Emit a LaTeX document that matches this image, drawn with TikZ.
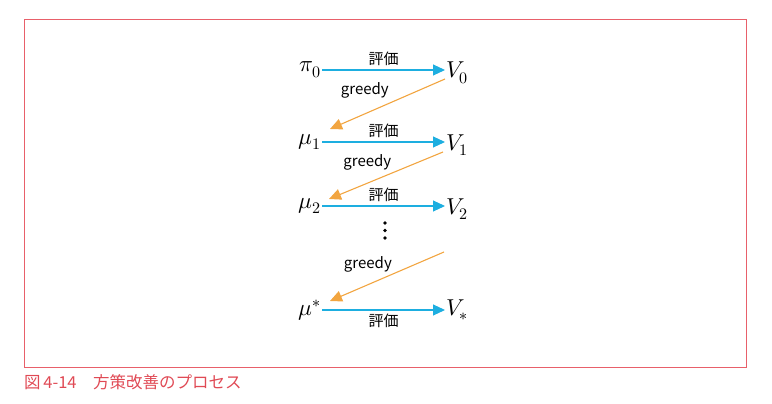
\documentclass[tikz,border=0pt]{standalone}
\usepackage{fontspec}
\usepackage{unicode-math}
\usetikzlibrary{arrows.meta}
\newfontfamily\jpfont{Noto Sans CJK JP}
\definecolor{framered}{HTML}{E8606A}
\definecolor{captred}{HTML}{E04A55}
\definecolor{evalblue}{HTML}{1DAEE0}
\definecolor{greedyorange}{HTML}{F2A540}

\begin{document}
\begin{tikzpicture}[x=1pt, y=-1pt,
  sym/.style={inner sep=1pt, font=\fontsize{23}{26}\selectfont},
  lbl/.style={font=\jpfont\fontsize{15}{17}\selectfont},
  evalarrow/.style={draw=evalblue, line width=1.1pt, -{Triangle[length=12pt, width=11pt]}},
  greedyarrow/.style={draw=greedyorange, line width=1.1pt, -{Triangle[length=12pt, width=11pt]}}]
\useasboundingbox (0,0) rectangle (772,404);
\draw[framered, line width=0.9pt] (24.5,19) rectangle (746,367);
\node[anchor=west, text=captred, font=\jpfont\fontsize{16.5}{18}\selectfont, inner sep=0pt] (caption) at (24,382) {図\,4-14\hspace{1em}方策改善のプロセス};

% left column
\node[sym, anchor=east] (pi0) at (322,70) {$\pi_0$};
\node[sym, anchor=east] (mu1) at (322,142) {$\mu_1$};
\node[sym, anchor=east] (mu2) at (322,206) {$\mu_2$};
\node[sym, anchor=east] (mustar) at (322,310) {$\mu^*$};
% right column
\node[sym, anchor=west] (V0) at (445,73) {$V_0$};
\node[sym, anchor=west] (V1) at (445,145) {$V_1$};
\node[sym, anchor=west] (V2) at (445,209) {$V_2$};
\node[sym, anchor=west] (Vstar) at (445,310) {$V_*$};
\coordinate (Vdots) at (444,252);

% evaluation
\draw[evalarrow] (pi0.east) -- (pi0.east -| V0.west) node[lbl, midway, above]{評価};
\draw[evalarrow] (mu1.east) -- (mu1.east -| V1.west) node[lbl, midway, above]{評価};
\draw[evalarrow] (mu2.east) -- (mu2.east -| V2.west) node[lbl, midway, above]{評価};
\draw[evalarrow] (mustar.east) -- (mustar.east -| Vstar.west) node[lbl, midway, below]{評価};

% greedy
\draw[greedyarrow] ([shift={(0,6)}]V0.west) -- ([shift={(8,-13)}]mu1.east)
  node[lbl, pos=0.49, above left, yshift=1pt, xshift=4pt]{greedy};
\draw[greedyarrow] ([shift={(-2,7)}]V1.west) -- ([shift={(7,-7)}]mu2.east)
  node[lbl, pos=0.49, above left, yshift=1pt, xshift=8pt]{greedy};
\draw[greedyarrow] (Vdots) -- ([shift={(8,-9)}]mustar.east)
  node[lbl, pos=0.45, above left, yshift=-2pt, xshift=3pt]{greedy};

% dots
\fill (385,223) circle (1.8);
\fill (385,230.5) circle (1.8);
\fill (385,238) circle (1.8);
\end{tikzpicture}
\end{document}
